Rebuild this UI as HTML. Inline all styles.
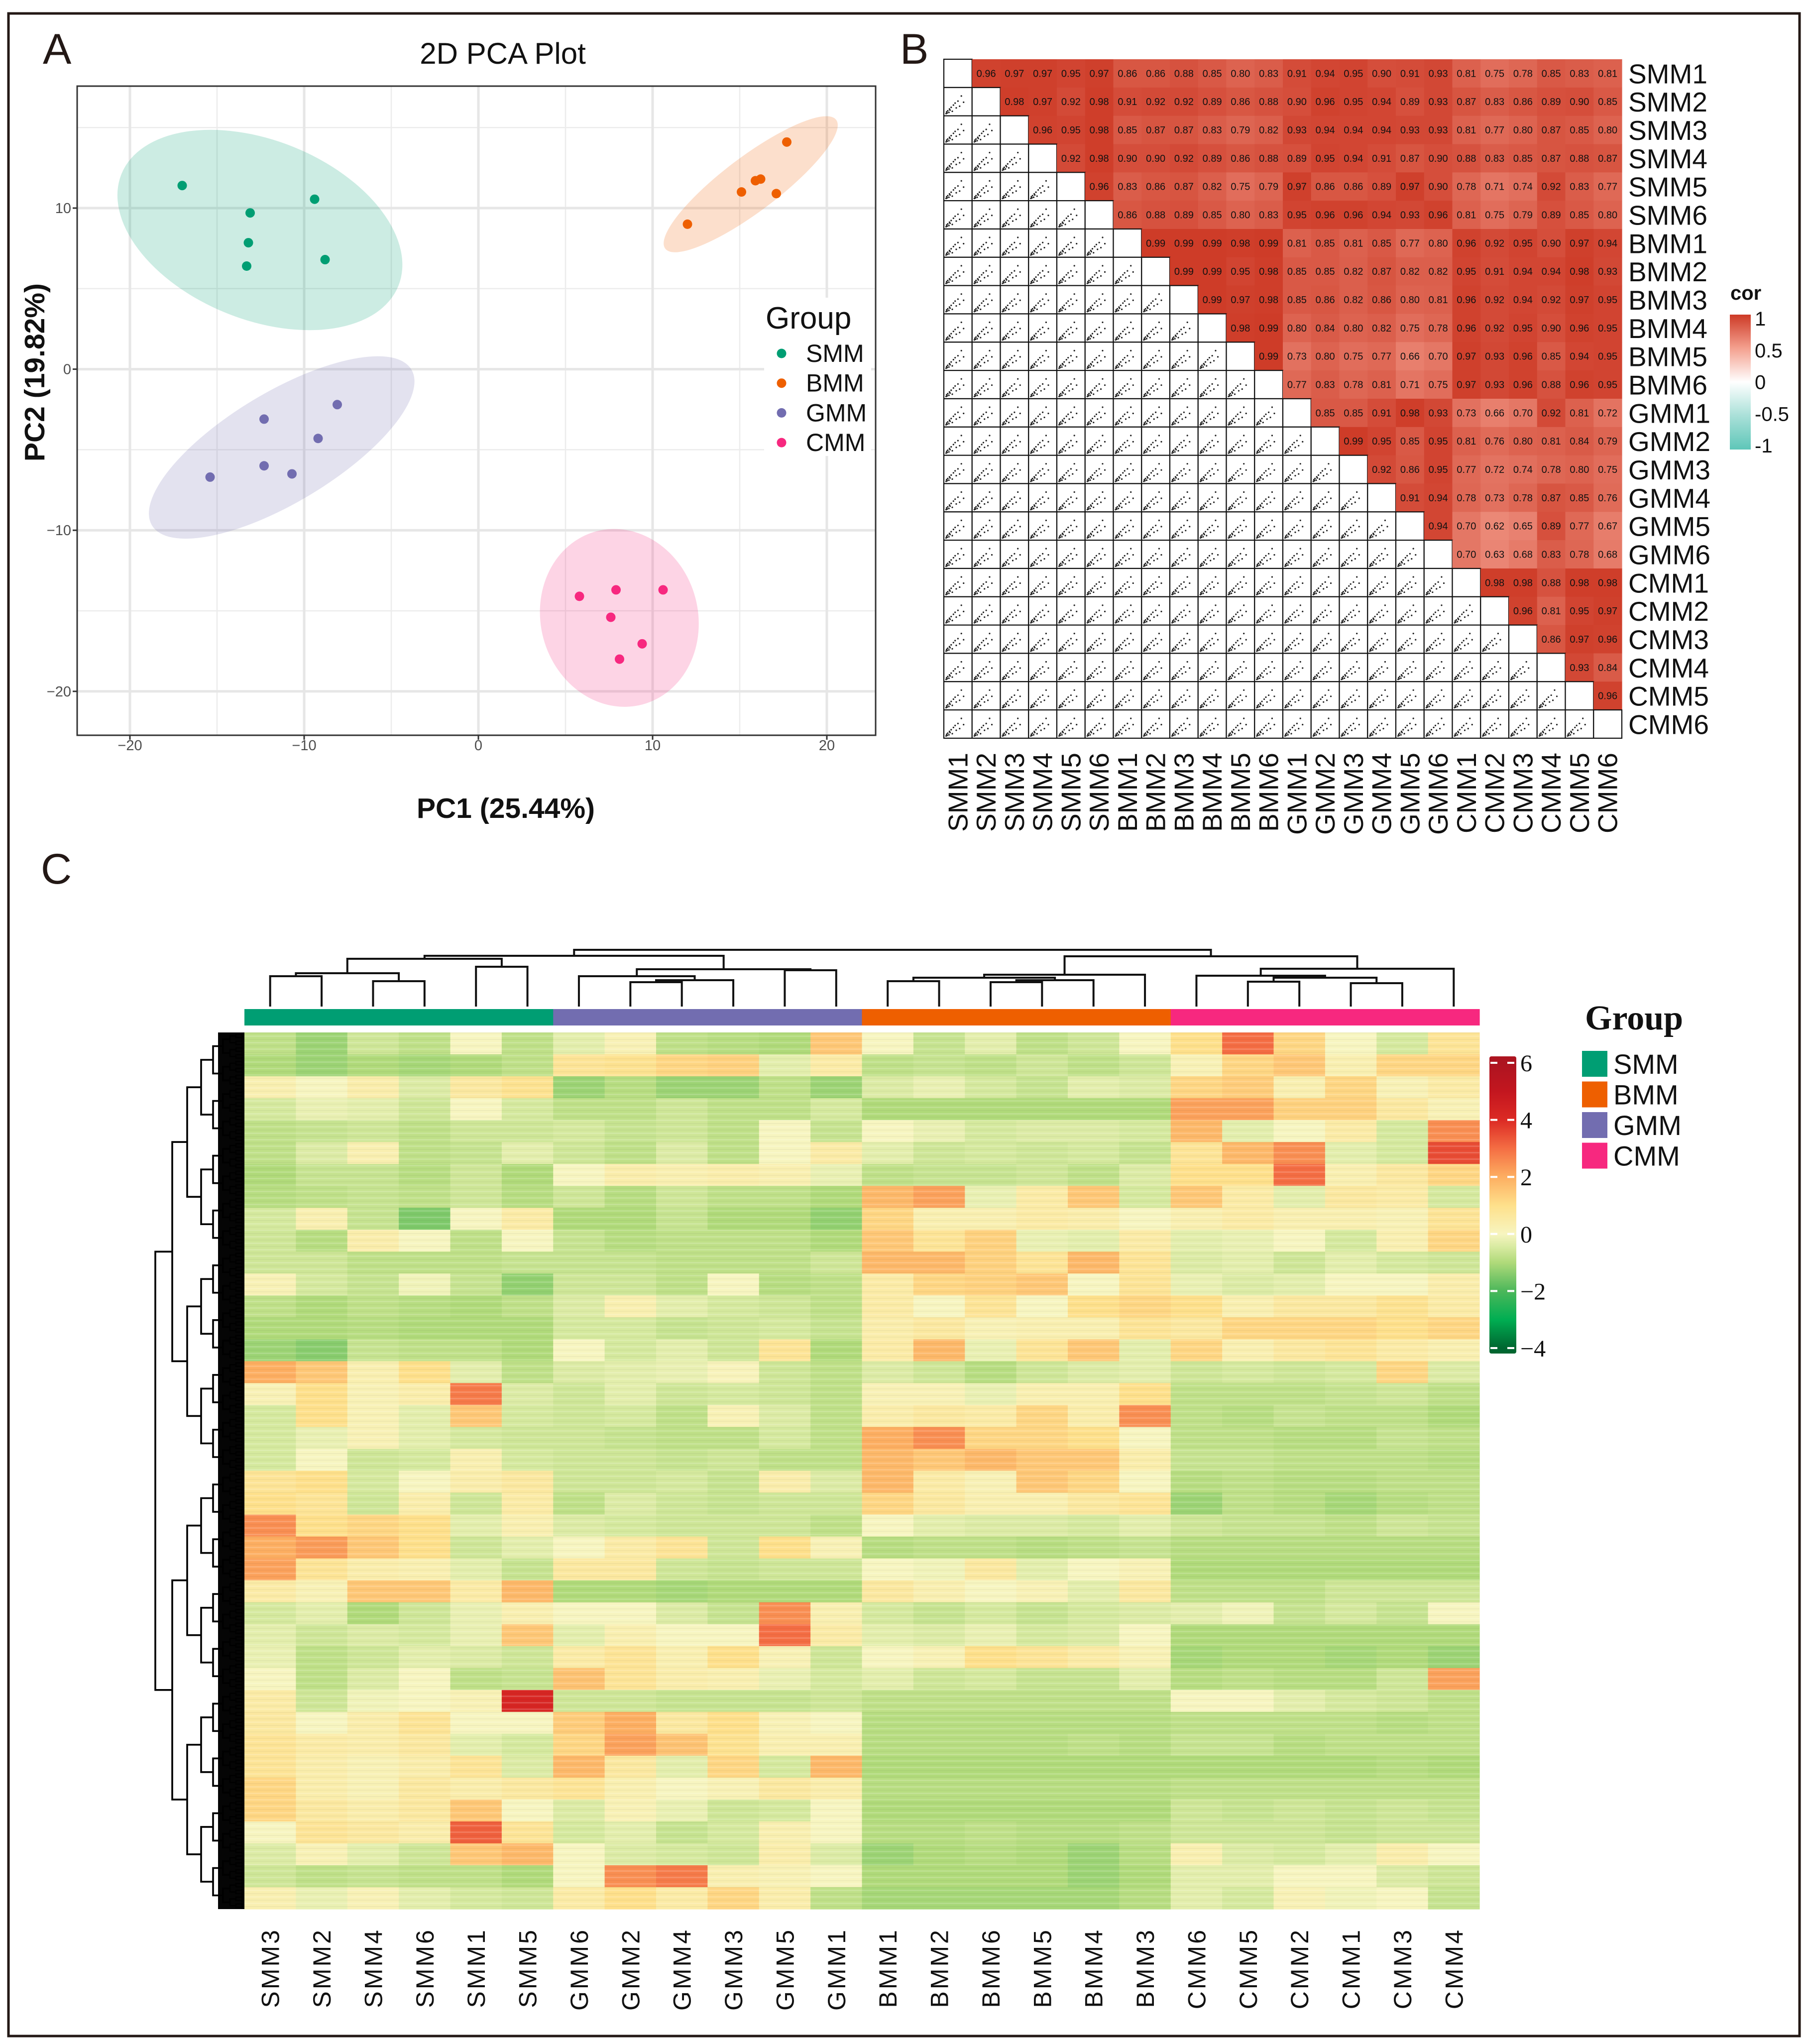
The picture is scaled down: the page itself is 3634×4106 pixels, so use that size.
<!DOCTYPE html>
<html><head><meta charset="utf-8"><title>PCA, correlation and heatmap figure</title>
<style>
html,body{margin:0;padding:0;background:#fff;}
svg{display:block;font-family:"Liberation Sans",sans-serif;}
</style></head>
<body>
<svg id="fig" xmlns="http://www.w3.org/2000/svg" width="3634" height="4106" viewBox="0 0 3634 4106">
<rect x="0" y="0" width="3634" height="4106" fill="#fff"/>
<rect x="17" y="27" width="3598" height="4063" fill="none" stroke="#231815" stroke-width="5"/>
<g id="pA"></g>
<g id="pB"></g>
<g id="pC"></g>
</svg>
<script>
// ---------------- Panel A data ----------------
const pcaGroups = ['SMM','BMM','GMM','CMM'];
const smmPC1 = [-17.0,-13.1,-13.2,-13.3,-9.4,-8.8];
const smmPC2 = [11.4,9.7,7.85,6.4,10.55,6.8];
const bmmPC1 = [17.7,15.1,15.9,16.2,17.1,12.0];
const bmmPC2 = [14.1,11.0,11.7,11.8,10.9,9.0];
const gmmPC1 = [-8.1,-12.3,-9.2,-12.3,-10.7,-15.4];
const gmmPC2 = [-2.2,-3.1,-4.3,-6.0,-6.5,-6.7];
const cmmPC1 = [5.8,7.9,10.6,7.6,9.4,8.1];
const cmmPC2 = [-14.1,-13.7,-13.7,-15.4,-17.05,-18.0];
const ellipseCX = [-12.54,15.63,-11.29,8.09];
const ellipseCY = [8.64,11.48,-4.86,-15.44];
const xTicks = [-20,-10,0,10,20];
const yTicks = [-20,-10,0,10];
const xMinor = [-15,-5,5,15];
const yMinor = [-15,-5,5,15];

// ---------------- Panel B data ----------------
const corLabels = ['SMM1','SMM2','SMM3','SMM4','SMM5','SMM6','BMM1','BMM2','BMM3','BMM4','BMM5','BMM6','GMM1','GMM2','GMM3','GMM4','GMM5','GMM6','CMM1','CMM2','CMM3','CMM4','CMM5','CMM6'];
const corRows = [
[0.96,0.97,0.97,0.95,0.97,0.86,0.86,0.88,0.85,0.80,0.83,0.91,0.94,0.95,0.90,0.91,0.93,0.81,0.75,0.78,0.85,0.83,0.81],
[0.98,0.97,0.92,0.98,0.91,0.92,0.92,0.89,0.86,0.88,0.90,0.96,0.95,0.94,0.89,0.93,0.87,0.83,0.86,0.89,0.90,0.85],
[0.96,0.95,0.98,0.85,0.87,0.87,0.83,0.79,0.82,0.93,0.94,0.94,0.94,0.93,0.93,0.81,0.77,0.80,0.87,0.85,0.80],
[0.92,0.98,0.90,0.90,0.92,0.89,0.86,0.88,0.89,0.95,0.94,0.91,0.87,0.90,0.88,0.83,0.85,0.87,0.88,0.87],
[0.96,0.83,0.86,0.87,0.82,0.75,0.79,0.97,0.86,0.86,0.89,0.97,0.90,0.78,0.71,0.74,0.92,0.83,0.77],
[0.86,0.88,0.89,0.85,0.80,0.83,0.95,0.96,0.96,0.94,0.93,0.96,0.81,0.75,0.79,0.89,0.85,0.80],
[0.99,0.99,0.99,0.98,0.99,0.81,0.85,0.81,0.85,0.77,0.80,0.96,0.92,0.95,0.90,0.97,0.94],
[0.99,0.99,0.95,0.98,0.85,0.85,0.82,0.87,0.82,0.82,0.95,0.91,0.94,0.94,0.98,0.93],
[0.99,0.97,0.98,0.85,0.86,0.82,0.86,0.80,0.81,0.96,0.92,0.94,0.92,0.97,0.95],
[0.98,0.99,0.80,0.84,0.80,0.82,0.75,0.78,0.96,0.92,0.95,0.90,0.96,0.95],
[0.99,0.73,0.80,0.75,0.77,0.66,0.70,0.97,0.93,0.96,0.85,0.94,0.95],
[0.77,0.83,0.78,0.81,0.71,0.75,0.97,0.93,0.96,0.88,0.96,0.95],
[0.85,0.85,0.91,0.98,0.93,0.73,0.66,0.70,0.92,0.81,0.72],
[0.99,0.95,0.85,0.95,0.81,0.76,0.80,0.81,0.84,0.79],
[0.92,0.86,0.95,0.77,0.72,0.74,0.78,0.80,0.75],
[0.91,0.94,0.78,0.73,0.78,0.87,0.85,0.76],
[0.94,0.70,0.62,0.65,0.89,0.77,0.67],
[0.70,0.63,0.68,0.83,0.78,0.68],
[0.98,0.98,0.88,0.98,0.98],
[0.96,0.81,0.95,0.97],
[0.86,0.97,0.96],
[0.93,0.84],
[0.96],
[]];
const corTicks = [1,0.5,0,-0.5,-1];
const corTickText = ['1','0.5','0','-0.5','-1'];

// ---------------- Panel C data ----------------
const hmCols = ['SMM3','SMM2','SMM4','SMM6','SMM1','SMM5','GMM6','GMM2','GMM4','GMM3','GMM5','GMM1','BMM1','BMM2','BMM6','BMM5','BMM4','BMM3','CMM6','CMM5','CMM2','CMM1','CMM3','CMM4'];
const hmColGroup = ['SMM','SMM','SMM','SMM','SMM','SMM','GMM','GMM','GMM','GMM','GMM','GMM','BMM','BMM','BMM','BMM','BMM','BMM','CMM','CMM','CMM','CMM','CMM','CMM'];
const hmRows = [
[-0.8,-1.2,-0.6,-0.8,0,-0.8, -0.3,0.2,-0.8,-0.9,-1,1.5, 0,-0.7,-0.3,-0.8,-0.6,0, 1,3,1.2,0,-0.5,0.8],
[-1,-1.2,-1,-1.1,-1,-0.8, 0.8,0.9,1.2,1.3,-0.3,0.5, -0.8,-0.7,-0.8,-0.6,-0.8,-0.6, 0.2,1.2,1.5,0.3,1.2,1.2],
[0.3,0,0.4,-0.4,0.6,0.9, -1.2,-0.9,-1.2,-1.2,-0.8,-1.2, -0.4,-0.2,-0.5,-0.7,-0.3,-0.4, 1.2,1.4,0.3,1.2,0.2,0.5],
[-0.5,-0.2,-0.3,-0.6,0,-0.5, -0.8,-0.8,-0.6,-0.8,-0.8,-0.5, -1,-1,-1,-1,-1,-1, 2.2,2.2,1.3,1.3,0.6,0.2],
[-0.8,-0.7,-0.6,-0.8,-0.6,-0.6, -0.5,-0.7,-0.6,-0.8,0,-0.7, 0,-0.2,-0.5,-0.4,-0.4,-0.5, 1.8,-0.3,0,0.5,-0.5,2.5],
[-0.8,-0.4,0.3,-0.8,-0.7,-0.3, -0.6,-0.8,-0.4,-0.8,0,0.5, -0.3,-0.6,-0.5,-0.6,-0.5,-0.7, 0.8,1.8,2.5,-0.3,-0.5,3.5],
[-1,-0.7,-0.7,-0.9,-0.6,-1, 0,0.4,0.3,0.4,0.3,-0.2, -0.8,-0.7,-0.7,-0.6,-0.8,-0.4, 1,1,3,0.3,0.6,1.2],
[-0.9,-0.8,-0.7,-0.8,-0.6,-0.9, -0.6,-0.9,-0.6,-0.8,-0.8,-1, 1.8,2.2,-0.2,0.5,1.5,-0.5, 1.5,0.5,-0.3,0.6,0.5,-0.5],
[-0.5,0.3,-0.7,-1.5,0,0.5, -1,-1,-0.7,-1,-1,-1.3, 1.2,0.3,0.3,0.5,0.4,0, 0.3,0.5,0.3,0.3,0.2,0.8],
[-0.6,-0.9,0.4,0,-0.8,0, -0.7,-0.9,-0.8,-0.8,-0.8,-1, 1.5,0.8,1.3,-0.2,-0.3,0.5, -0.3,-0.2,0,-0.5,0.3,1.2],
[-0.6,-0.6,-0.8,-0.8,-0.8,-0.7, -0.7,-0.7,-0.8,-0.8,-0.8,-0.6, 1.8,1.8,1.3,0.8,1.8,0.8, -0.4,-0.3,-0.6,-0.3,-0.5,-0.6],
[0.2,-0.5,-0.7,-0.1,-0.7,-1.3, -0.6,-0.6,-0.8,0,-0.9,-0.8, 0.5,1.2,1.3,1.5,0,0.8, -0.2,-0.4,-0.3,0,0,0.4],
[-0.8,-1,-0.8,-0.9,-1,-0.8, -0.4,0.3,-0.3,-0.5,-0.6,-0.8, 0.5,0,0.8,0,1,1.2, 1,0.3,0.6,0.6,0.9,0.5],
[-1,-1,-0.9,-1,-1,-1, -0.5,-0.5,-0.7,-0.6,-0.5,-0.7, 0.4,0.6,0.2,0.3,0.3,0.8, 0.6,1.2,1.2,1.2,1,1.2],
[-1.2,-1.4,-0.7,-0.8,-0.8,-1, 0,-0.5,-0.3,-0.6,0.8,-1, 0.5,1.8,-0.2,0.8,1.5,-0.3, 1.2,0.3,0.6,0.8,0.5,0.3],
[2,1.5,0.3,1,-0.3,-0.8, -0.4,-0.3,-0.2,0.1,-0.6,-0.8, -0.4,-0.6,-0.9,-0.6,-0.4,-0.3, -0.6,-0.5,-0.6,-0.5,1.2,-0.4],
[0.2,1,0.2,0.4,2.8,-0.4, -0.6,-0.3,-0.6,-0.5,-0.6,-0.8, 0.2,0.2,-0.2,0.3,0.3,1, -0.8,-0.8,-0.8,-0.7,-0.6,-0.8],
[-0.5,1,0.2,-0.3,1.5,-0.5, -0.6,-0.5,-0.8,0.2,-0.4,-0.8, 0.4,0.6,0.5,1.2,0.4,2.5, -0.8,-0.9,-0.7,-0.8,-0.8,-1],
[-0.5,-0.2,0.2,-0.3,-0.5,-0.6, -0.6,-0.7,-0.8,-0.8,-0.5,-0.8, 2,2.5,1.2,1.2,1,0, -0.8,-0.8,-0.9,-0.9,-0.7,-0.8],
[-0.5,0,-0.6,-0.5,0.3,-0.5, -0.6,-0.6,-0.7,-0.6,-0.8,-0.8, 1.8,1.5,1.8,1.5,1.5,0.4, -0.7,-0.7,-0.8,-0.8,-0.8,-0.9],
[0.8,1,-0.5,0,0.4,0.6, -0.6,-0.6,-0.5,-0.7,0.4,-0.4, 1.8,0.5,0.2,1.5,1.2,0, -0.9,-0.8,-0.9,-0.9,-0.8,-0.8],
[1,0.8,-0.6,0.4,-0.6,0.5, -0.8,-0.4,-0.6,-0.7,-0.6,-0.6, 1.2,0.6,0.3,0.3,0.6,0.8, -1.2,-0.8,-0.9,-1.1,-0.9,-0.8],
[2.5,1,1.2,1,-0.3,0.3, -0.4,-0.5,-0.6,-0.6,-0.6,-0.8, 0,-0.3,-0.4,-0.4,-0.5,-0.3, -0.6,-0.7,-0.7,-0.8,-0.6,-0.7],
[2,2.3,1.5,1,-0.6,-0.3, 0,0.5,0.8,-0.6,1,0.2, -0.9,-0.8,-0.8,-0.9,-0.8,-0.7, -0.9,-0.9,-0.9,-0.9,-0.9,-0.9],
[2.2,0.8,0.4,0.3,-0.3,-0.7, 0.6,0.6,-0.6,-0.7,-0.6,-0.6, 0,-0.1,0.6,-0.3,0,0.2, -1,-1,-1,-1,-1,-1],
[0.5,0.2,1.5,1.5,0.5,1.8, -1,-1,-1.1,-1,-1,-1, 0.6,0.3,0,0.2,-0.3,0.6, -0.8,-0.8,-0.8,-0.6,-0.6,-0.6],
[-0.5,-0.3,-1,-0.6,-0.2,0.3, 0,0,-0.4,-0.7,2.5,0.3, -0.5,-0.7,-0.5,-0.7,-0.5,-0.4, -0.3,-0.1,-0.7,-0.5,-0.7,0],
[-0.3,-0.6,-0.4,-0.5,-0.2,1.5, -0.3,0.3,0,0,3,0.5, -0.3,-0.4,-0.2,-0.5,-0.4,0, -1,-1,-1,-1,-1,-1],
[-0.2,-0.8,-0.6,-0.3,-0.4,-0.6, 0.5,0.8,0.3,1,0.2,-0.6, 0,0.2,1,0.8,0.5,0.2, -1.1,-1,-1,-1.1,-1,-1.2],
[0,-0.8,-0.4,0,-0.8,-0.7, 1.6,0.8,0.4,0.3,-0.2,-0.5, -0.3,-0.6,-0.5,-0.7,-0.7,-0.3, -0.9,-0.8,-0.9,-0.9,-0.6,2.2],
[0.5,-0.6,-0.1,0,0.2,4.2, -0.6,-0.6,-0.7,-0.7,-0.7,-0.6, -0.8,-0.8,-0.8,-0.8,-0.8,-0.8, 0,0,-0.3,-0.5,-0.6,-0.8],
[0.6,0,0.4,0.8,0,0, 1.4,2,0.6,1,0.2,0, -0.9,-0.9,-0.9,-0.9,-0.9,-0.9, -0.8,-0.8,-0.8,-0.8,-0.9,-0.8],
[0.8,0.5,0.4,0.6,-0.3,-0.5, 1.2,2.2,1.6,0.9,0.3,0.3, -0.9,-0.9,-0.9,-0.9,-0.8,-0.9, -0.7,-0.7,-0.9,-0.8,-0.8,-0.8],
[0.8,0.4,0.2,0.4,0.8,-0.4, 1.8,0.6,-0.3,1.2,-0.5,1.8, -1,-1,-1,-1,-1,-1, -1,-1,-1,-1,-0.9,-1],
[1.2,0.4,0.2,0.6,0.4,0.6, 0.8,0.3,0,0.2,0.6,0.4, -0.9,-0.9,-0.9,-0.9,-0.9,-0.9, -0.8,-0.8,-0.8,-0.8,-0.8,-0.8],
[1.2,0.6,0.4,0.6,1.5,0, -0.4,0.2,-0.2,-0.6,-0.5,0, -1,-1,-1,-1,-1,-1, -0.6,-0.7,-0.6,-0.7,-0.6,-0.7],
[0,0.8,0.6,0.4,3.2,0.8, -0.5,-0.3,-0.7,-0.5,0.3,0, -0.9,-0.9,-0.8,-0.9,-0.9,-0.8, -0.6,-0.6,-0.6,-0.7,-0.6,-0.6],
[-0.4,0.2,-0.3,-0.6,1.5,1.8, 0,-0.4,-0.5,-0.6,0.4,-0.4, -1.2,-1,-0.9,-1,-1.2,-0.9, 0.3,-0.4,-0.5,-0.3,0.4,0],
[-0.6,-0.8,-0.7,-0.8,-0.8,-1, 0,2.5,2.8,0.3,0.2,0, -1,-1,-1,-1,-1.2,-1, -0.3,-0.3,0,0,-0.4,-0.6],
[0.3,-0.2,0.2,-0.3,-0.5,-0.6, 0.5,1,0.5,1.2,0.4,-0.8, -1.1,-1.1,-1.1,-1.1,-1.1,-0.9, -0.3,-0.5,0.2,-0.1,0,-0.7]];
const hmTicks = [6,4,2,0,-2,-4];
// column dendrogram merges: [childA, childB, height]; ids >= 24 are previous merges
const dendMerges = [
[0,1,61],[2,3,51],[24,25,67],[4,5,80],[26,27,96],
[7,8,49],[29,9,53],[6,30,61],[10,11,73],[31,32,75],[28,33,102],
[12,13,51],[14,15,49],[36,16,53],[35,37,58],[38,17,64],
[19,20,50],[21,22,47],[40,41,58],[18,42,62],[43,23,76],[39,44,101],[34,45,114]];

// ---------------- helpers ----------------
const NS='http://www.w3.org/2000/svg';
function mk(tag, parent, attrs, text){
  const e=document.createElementNS(NS,tag);
  for(const k in attrs) e.setAttribute(k,attrs[k]);
  if(text!==undefined) e.textContent=text;
  parent.appendChild(e); return e;
}
function hex(c){return [parseInt(c.slice(1,3),16),parseInt(c.slice(3,5),16),parseInt(c.slice(5,7),16)];}
function interp(stops,v){
  if(v<=stops[0][0]) return stops[0][1];
  for(let i=1;i<stops.length;i++){
    if(v<=stops[i][0]){
      const t=(v-stops[i-1][0])/(stops[i][0]-stops[i-1][0]);
      const a=hex(stops[i-1][1]),b=hex(stops[i][1]);
      return 'rgb('+a.map((x,k)=>Math.round(x+(b[k]-x)*t)).join(',')+')';
    }
  }
  return stops[stops.length-1][1];
}
const groupColor={SMM:'#009E73',BMM:'#EE5F00',GMM:'#726DB0',CMM:'#F7287F'};

// ================= Panel A =================
(function(){
  const g=document.getElementById('pA');
  const sx=v=>961+35*v, sy=v=>741.6-32.36*v;
  const L=155,R=1759,T=173,B=1477;
  let t=mk('text',g,{x:86,y:128,'font-size':86,fill:'#231815'},'A');
   
  t=mk('text',g,{x:1010,y:128,'font-size':60,'text-anchor':'middle',fill:'#111'},'2D PCA Plot');
   
  const grid=mk('g',g,{});
   
  xMinor.forEach(v=>mk('line',grid,{x1:sx(v),x2:sx(v),y1:T,y2:B,stroke:'#ececec','stroke-width':2.5}));
  yMinor.forEach(v=>mk('line',grid,{x1:L,x2:R,y1:sy(v),y2:sy(v),stroke:'#ececec','stroke-width':2.5}));
  xTicks.forEach(v=>mk('line',grid,{x1:sx(v),x2:sx(v),y1:T,y2:B,stroke:'#e6e6e6','stroke-width':5}));
  yTicks.forEach(v=>mk('line',grid,{x1:L,x2:R,y1:sy(v),y2:sy(v),stroke:'#e6e6e6','stroke-width':5}));
  const ell=[[300,180,22],[215,55,-37],[304,111,-31],[158,180,-15]];
  const xs=[smmPC1,bmmPC1,gmmPC1,cmmPC1], ys=[smmPC2,bmmPC2,gmmPC2,cmmPC2];
  pcaGroups.forEach((grp,i)=>{
    const cx=sx(ellipseCX[i]),cy=sy(ellipseCY[i]);
    const e=mk('ellipse',g,{cx:cx,cy:cy,rx:ell[i][0],ry:ell[i][1],transform:'rotate('+ell[i][2]+' '+cx+' '+cy+')',fill:groupColor[grp],'fill-opacity':0.2});
     
  });
  pcaGroups.forEach((grp,i)=>{
    xs[i].forEach((v,k)=>{
      const c=mk('circle',g,{cx:sx(v),cy:sy(ys[i][k]),r:9.5,fill:groupColor[grp]});
       
    });
  });
  const box=mk('rect',g,{x:L,y:T,width:R-L,height:B-T,fill:'none',stroke:'#333','stroke-width':3});
   
  xTicks.forEach(v=>{
    mk('line',g,{x1:sx(v),x2:sx(v),y1:B,y2:B+9,stroke:'#333','stroke-width':3});
    const tt=mk('text',g,{x:sx(v),y:1507,'font-size':29,'text-anchor':'middle',fill:'#4d4d4d'},v<0?'\u2212'+(-v):String(v));
     
  });
  yTicks.forEach(v=>{
    mk('line',g,{x1:L-9,x2:L,y1:sy(v),y2:sy(v),stroke:'#333','stroke-width':3});
    const tt=mk('text',g,{x:143,y:sy(v)+10,'font-size':29,'text-anchor':'end',fill:'#4d4d4d'},v<0?'\u2212'+(-v):String(v));
     
  });
  t=mk('text',g,{x:1016,y:1643,'font-size':57,'font-weight':'bold','text-anchor':'middle',fill:'#111'},'PC1 (25.44%)');
   
  t=mk('text',g,{x:0,y:0,'font-size':57,'font-weight':'bold','text-anchor':'middle',fill:'#111',transform:'translate(89 748) rotate(-90)'},'PC2 (19.82%)');
   
  const lg=mk('g',g,{});
   
  mk('rect',lg,{x:1535,y:598,width:215,height:318,fill:'#fff'});
  t=mk('text',lg,{x:1538,y:660,'font-size':62,fill:'#111'},'Group');
   
  pcaGroups.forEach((grp,i)=>{
    const yy=710+i*59.7;
    const c=mk('circle',lg,{cx:1570,cy:yy,r:9.5,fill:groupColor[grp]});
     
    const tx=mk('text',lg,{x:1619,y:yy+17,'font-size':50,fill:'#111'},grp);
     
  });
})();

// ================= Panel B =================
(function(){
  const g=document.getElementById('pB');
  const X0=1896,Y0=119,CW=56.75,CH=56.83,n=corLabels.length;
  const corStops=[[-1,'#5ec6b8'],[-0.5,'#a9e0d8'],[0,'#ffffff'],[0.5,'#f4a08f'],[1,'#cd3a26']];
  let t=mk('text',g,{x:1808,y:128,'font-size':86,fill:'#231815'},'B');
   
  const dots=[[.1,.86],[.14,.82],[.2,.76],[.12,.9],[.26,.7],[.34,.62],[.3,.84],[.5,.48],[.44,.72],[.62,.3],[.7,.52],[.18,.88],[.08,.92],[.22,.8],[.4,.55],[.56,.66]];
  for(let i=0;i<n;i++){
    for(let j=0;j<n;j++){
      const x=X0+j*CW,y=Y0+i*CH;
      if(j>i){
        const v=corRows[i][j-i-1];
        const r=mk('rect',g,{x:x,y:y,width:CW+0.6,height:CH+0.6,fill:interp(corStops,v)});
         
        const tx=mk('text',g,{x:x+CW/2,y:y+CH/2+7,'font-size':20,'text-anchor':'middle',fill:'#111'},v.toFixed(2));
         
      }else{
        const r=mk('rect',g,{x:x,y:y,width:CW,height:CH,fill:'#fff',stroke:'#111','stroke-width':2.2});
         
        if(j<i){
          dots.forEach(d=>mk('circle',g,{cx:x+d[0]*CW,cy:y+d[1]*CH,r:1.6,fill:'#222'}));
        }
      }
    }
    const rl=mk('text',g,{x:3271,y:Y0+i*CH+CH/2+20,'font-size':55,fill:'#111'},corLabels[i]);
     
    const cx=X0+i*CW+CW/2+19;
    const cl=mk('text',g,{x:0,y:0,'font-size':55,'text-anchor':'end',fill:'#111',transform:'translate('+cx+' 1512) rotate(-90)'},corLabels[i]);
     
  }
  const defs=mk('defs',g,{});
  const lgd=mk('linearGradient',defs,{id:'corGrad',x1:0,y1:0,x2:0,y2:1});
  corStops.slice().reverse().forEach((s,k)=>mk('stop',lgd,{offset:(k/4),'stop-color':s[1]}));
  const cbT=632,cbB=903;
  const cb=mk('rect',g,{x:3475,y:cbT,width:42,height:cbB-cbT,fill:'url(#corGrad)'});
   
  t=mk('text',g,{x:3476,y:602,'font-size':40,'font-weight':'bold',fill:'#111'},'cor');
   
  corTicks.forEach((v,k)=>{
    const yy=cbT+8+(1-v)/2*(cbB-cbT-16);
    const tx=mk('text',g,{x:3525,y:yy+14,'font-size':40,fill:'#111'},corTickText[k]);
     
  });
})();

// ================= Panel C =================
(function(){
  const g=document.getElementById('pC');
  const X0=491,X1=2972,Y0=2074,Y1=3835;
  const nc=hmCols.length, nr=hmRows.length;
  const CW=(X1-X0)/nc, RH=(Y1-Y0)/nr;
  const hmStops=[[-4,'#006630'],[-3,'#00ae52'],[-2,'#4cb75a'],[-1,'#b0da7a'],[-0.5,'#d5e99e'],[0,'#f7f5c0'],[1,'#fee08b'],[2,'#fdae61'],[3,'#f46d43'],[4,'#dc2a24'],[5,'#c3161f'],[6,'#ad1420']];
  let t=mk('text',g,{x:82,y:1775,'font-size':86,fill:'#231815'},'C');
   
  const hm=mk('g',g,{});
   
  hmRows.forEach((row,i)=>{
    row.forEach((v,j)=>{
      const r=mk('rect',hm,{x:X0+j*CW,y:Y0+i*RH,width:CW+0.6,height:RH+0.6,fill:interp(hmStops,v)});
       
    });
  });
  const defs=mk('defs',g,{});
  const pat=mk('pattern',defs,{id:'stripes',x:0,y:0,width:10,height:13,patternUnits:'userSpaceOnUse'});
  mk('rect',pat,{x:0,y:0,width:10,height:3,fill:'#ffffff','fill-opacity':0.16});
  mk('rect',pat,{x:0,y:7,width:10,height:2,fill:'#000000','fill-opacity':0.035});
  const ov=mk('rect',g,{x:X0,y:Y0,width:X1-X0,height:Y1-Y0,fill:'url(#stripes)'});
   
  hmColGroup.forEach((grp,j)=>{
    const r=mk('rect',g,{x:X0+j*CW,y:2027,width:CW+0.6,height:33,fill:groupColor[grp]});
     
  });
  hmCols.forEach((c,j)=>{
    const cx=X0+(j+0.5)*CW+18;
    const tx=mk('text',g,{x:0,y:0,'font-size':50,'letter-spacing':4,'text-anchor':'end',fill:'#111',transform:'translate('+cx+' 3873) rotate(-90)'},c);
     
  });
  const dg=mk('g',g,{fill:'none',stroke:'#111','stroke-width':4});
   
  const leafY=2022, hy=h=>leafY-h;
  const nodeX=[],nodeY=[];
  for(let j=0;j<nc;j++){nodeX.push(X0+(j+0.5)*CW);nodeY.push(leafY);}
  dendMerges.forEach(m=>{
    const a=m[0],b=m[1],y=hy(m[2]);
    mk('path',dg,{d:'M'+nodeX[a]+' '+nodeY[a]+'V'+y+'H'+nodeX[b]+'V'+nodeY[b]});
    nodeX.push((nodeX[a]+nodeX[b])/2); nodeY.push(y);
  });
  // row dendrogram
  const rg=mk('g',g,{fill:'none',stroke:'#000'});
   
  const blk=mk('rect',rg,{x:438,y:Y0,width:X0-438,height:Y1-Y0,fill:'#050505',stroke:'none'});
   
  const levels=[486,474,462,448,428,404,376,346,312];
  let ys=[];
  const nLeaf=512;
  for(let k=0;k<nLeaf;k++) ys.push(Y0+(k+0.5)*(Y1-Y0)/nLeaf);
  let xs=ys.map(()=>X0);
  levels.forEach((lx,li)=>{
    const ny=[],nx=[];
    let d='';
    for(let k=0;k<ys.length;k+=2){
      d+='M'+xs[k]+' '+ys[k].toFixed(1)+'H'+lx+'V'+ys[k+1].toFixed(1)+'H'+xs[k+1];
      ny.push((ys[k]+ys[k+1])/2); nx.push(lx);
    }
    mk('path',rg,{d:d,'stroke-width':li<3?2.6:3.6});
    ys=ny; xs=nx;
  });
  const cT=2122,cB=2719,vT=6,vB=-4;
  const vy=v=>2135+(vT-v)/(vT-vB)*(2708-2135);
  const lgd=mk('linearGradient',defs,{id:'hmGrad',x1:0,y1:0,x2:0,y2:1});
  hmStops.slice().reverse().forEach(s=>mk('stop',lgd,{offset:((vy(s[0])-cT)/(cB-cT)).toFixed(4),'stop-color':s[1]}));
  const cb=mk('rect',g,{x:2992,y:cT,width:54,height:cB-cT,rx:4,fill:'url(#hmGrad)'});
   
  hmTicks.forEach(v=>{
    const yy=vy(v);
    mk('line',g,{x1:2994,x2:3044,y1:yy,y2:yy,stroke:'#fff','stroke-width':4,'stroke-dasharray':'14 20'});
    const tx=mk('text',g,{x:3054,y:yy+17,'font-size':48,'font-family':'"Liberation Serif",serif',fill:'#111'},v<0?'\u2212'+(-v):String(v));
     
  });
  const lg=mk('g',g,{});
   
  t=mk('text',lg,{x:3184,y:2068,'font-size':70,'font-weight':'bold','font-family':'"Liberation Serif",serif',fill:'#111'},'Group');
   
  const order=['SMM','BMM','GMM','CMM'];
  order.forEach((grp,i)=>{
    const yy=2111+i*61.5;
    const r=mk('rect',lg,{x:3178,y:yy,width:51,height:52,fill:groupColor[grp]});
     
    const tx=mk('text',lg,{x:3241,y:yy+46,'font-size':56,fill:'#111'},grp);
     
  });
})();
</script>
</body></html>
